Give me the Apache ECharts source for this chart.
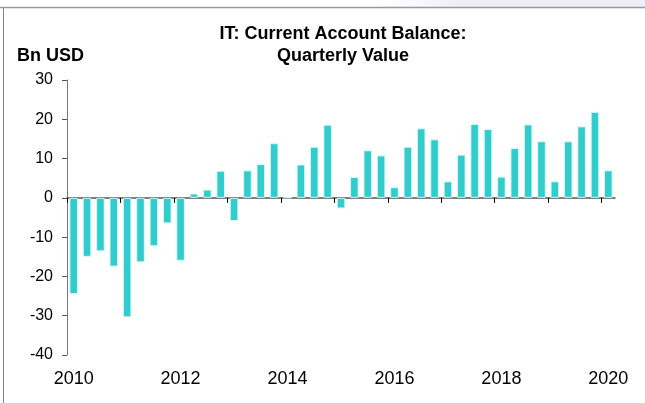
<!DOCTYPE html>
<html>
<head>
<meta charset="utf-8">
<script src="https://cdn.jsdelivr.net/npm/echarts@6/dist/echarts.min.js"></script>
<style>
html, body { margin: 0; padding: 0; background: #fff; }
#main { width: 645px; height: 403px; }
</style>
</head>
<body>
<div id="main"></div>
<script>
// quarters 2010Q1 .. 2020Q1
var years = [2010, 2011, 2012, 2013, 2014, 2015, 2016, 2017, 2018, 2019, 2020];
var quarters = [];
years.forEach(function (y) {
    for (var q = 1; q <= 4; q++) {
        if (y === 2020 && q > 1) break;
        quarters.push(y + 'Q' + q);
    }
});
// boundaries between quarters (for the year ticks on the zero line)
var boundaries = quarters.concat(['end']);

// current account balance, Bn USD
var balance = [
    -24.5, -15.0, -13.6, -17.5,
    -30.4, -16.4, -12.3, -6.5,
    -16.0, 1.1, 2.1, 6.9,
    -5.9, 7.0, 8.6, 13.9,
    0.1, 8.5, 13.0, 18.6,
    -2.7, 5.3, 12.1, 10.8,
    2.7, 13.0, 17.7, 14.9,
    4.2, 11.0, 18.8, 17.5,
    5.4, 12.7, 18.7, 14.4,
    4.2, 14.4, 18.2, 21.9,
    7.0
];

var yTicks = { min: -40, max: 30, step: 10 };

var chart = echarts.init(document.getElementById('main'));

var option = {
    animation: false,
    textStyle: { fontFamily: 'Liberation Sans, Arial, sans-serif' },
    title: {
        text: 'IT: Current Account Balance:\nQuarterly Value',
        left: 338,
        textAlign: 'center',
        top: 18,
        textStyle: { fontSize: 18, fontWeight: 'bold', color: '#000', lineHeight: 22 }
    },
    graphic: [
        {
            type: 'rect',
            shape: { x: 380, y: 0, width: 265, height: 7 },
            style: {
                fill: new echarts.graphic.LinearGradient(0, 0, 1, 0, [
                    { offset: 0, color: '#ffffff' },
                    { offset: 0.3, color: '#eeeef8' },
                    { offset: 1, color: '#eeeef8' }
                ])
            }
        },
        {
            type: 'line',
            shape: { x1: 0, y1: 7.5, x2: 645, y2: 7.5 },
            style: { stroke: '#999', lineWidth: 1.5 }
        },
        {
            type: 'line',
            shape: { x1: 3.5, y1: 7.5, x2: 3.5, y2: 403 },
            style: { stroke: '#888', lineWidth: 1 }
        },
        {
            type: 'text',
            left: 17,
            top: 47,
            style: { text: 'Bn USD', fontSize: 18, fontWeight: 'bold', fill: '#000', fontFamily: 'Liberation Sans, Arial, sans-serif' }
        }
    ],
    grid: { left: 67, right: 30, top: 80, bottom: 48 },
    xAxis: [
        {
            // zero line with year boundary ticks
            type: 'category',
            data: boundaries,
            boundaryGap: false,
            axisLine: { onZero: true, lineStyle: { color: '#555', width: 1.5 } },
            axisTick: {
                show: true,
                length: 5,
                interval: function (i) { return i % 4 === 0; },
                lineStyle: { color: '#000' }
            },
            axisLabel: { show: false }
        },
        {
            type: 'category',
            data: quarters,
            position: 'bottom',
            axisLine: { show: false, onZero: false },
            axisTick: { show: false },
            axisLabel: {
                margin: 15,
                fontSize: 18,
                color: '#000',
                interval: function (i) { return i % 8 === 0; },
                formatter: function (v) { return v.slice(0, 4); }
            }
        }
    ],
    yAxis: {
        type: 'value',
        min: yTicks.min,
        max: yTicks.max,
        interval: yTicks.step,
        axisLine: { show: true, lineStyle: { color: '#777' } },
        axisTick: { show: true, length: 5, lineStyle: { color: '#555' } },
        splitLine: { show: false },
        axisLabel: { fontSize: 16, color: '#000', margin: 14 }
    },
    series: [
        {
            type: 'bar',
            data: balance,
            xAxisIndex: 1,
            barCategoryGap: '36%',
            itemStyle: {
                color: '#33CCCC',
                borderColor: 'rgba(220,250,250,0.9)',
                borderWidth: 1
            }
        }
    ]
};

chart.setOption(option);
</script>
</body>
</html>
